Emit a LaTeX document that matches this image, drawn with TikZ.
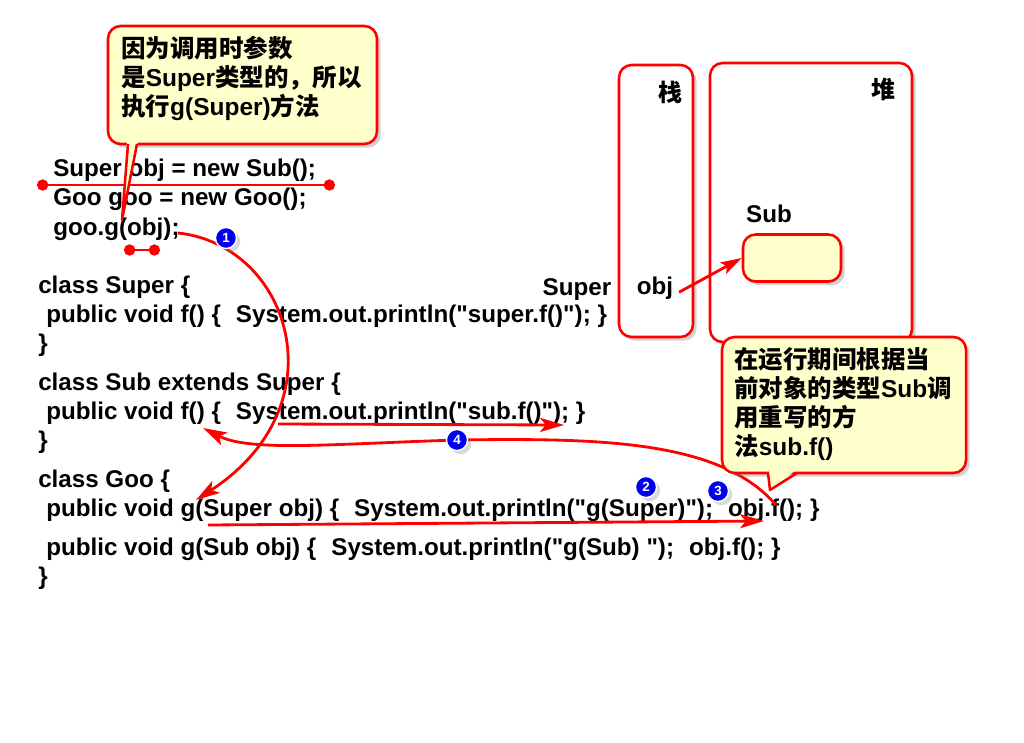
\documentclass[tikz,border=0pt]{standalone}
\usepackage{fontspec}
\setmainfont{Liberation Sans}[Ligatures=TeXOff]
\newfontfamily\cjk{Noto Sans CJK SC}
\usetikzlibrary{arrows.meta}
\usetikzlibrary{shadows}
\usetikzlibrary{positioning}

\definecolor{notefill}{RGB}{255,255,204}
\definecolor{dotblue}{RGB}{0,0,240}
\newcommand{\cn}[1]{{\cjk #1}}
\newcommand{\gap}{\hspace{0.62em}}

\tikzset{
  code/.style={anchor=west,inner sep=0pt,font=\bfseries\fontsize{17.2}{20}\selectfont},
  notetext/.style={anchor=north west,inner sep=0pt,align=left,font=\bfseries\fontsize{17.4}{20.6}\selectfont},
  redline/.style={red,line width=1.8pt},
  notebox/.style={redline,draw,fill=notefill,rounded corners=9pt,drop shadow={opacity=0.35}},
  membox/.style={redline,fill=white,rounded corners=9pt,drop shadow={opacity=0.35}},
  flow/.style={red,line width=2pt,-{Stealth[length=17pt,width=10pt,inset=4pt]}},
  pin/.style={red,line width=1.8pt,{Circle[length=8pt]}-{Circle[length=8pt]}},
  numdot/.style={circle,fill=dotblue,draw=white,line width=1pt,inner sep=0pt,minimum size=15pt,
    text=white,font=\bfseries\fontsize{9.5}{9.5}\selectfont,drop shadow={opacity=0.3}},
  memlabel/.style={font=\cjk\bfseries\fontsize{17}{17}\selectfont}
}

\begin{document}
\begin{tikzpicture}[x=0.025cm,y=-0.025cm]
    \useasboundingbox (0,0) rectangle (1024,742);

    % the code
    \node[code] (declObj) at (53,170) {Super obj = new Sub();};
    \node[code] (declGoo) at (53,199) {Goo goo = new Goo();};
    \node[code] (callG) at (53,229) {goo.g(obj);};
    \node[code] (superHead) at (38,287) {class Super \{};
    \node[code] (superF) at (46,316) {public void f() \{\gap System.out.println("super.f()"); \}};
    \node[code] (superEnd) at (38,345) {\}};
    \node[code] (subHead) at (38,384) {class Sub extends Super \{};
    \node[code] (subF) at (46,413) {public void f() \{\gap System.out.println("sub.f()"); \}};
    \node[code] (subEnd) at (38,442) {\}};
    \node[code] (gooHead) at (38,481) {class Goo \{};
    \node[code] (gooSuper) at (46,510) {public void g(Super obj) \{\gap System.out.println("g(Super)");\gap obj.f(); \}};
    \node[code] (gooSub) at (46,549) {public void g(Sub obj) \{\gap System.out.println("g(Sub) ");\gap obj.f(); \}};
    \node[code] (gooEnd) at (38,578) {\}};

    % stack and heap
    \draw[membox] (619,65) rectangle (693,337);
    \draw[membox] (710,63) rectangle (912,342);
    \node[memlabel] (stackLbl) at (670,92) {栈};
    \node[memlabel] (heapLbl) at (883,89) {堆};
    \node[notebox,minimum width=98*0.025cm,minimum height=47*0.025cm] (subObj) at (792,258) {};
    \node[code,anchor=center] (subLbl) at (769,214) {Sub};
    \node[code,anchor=center] (objLbl) at (655,288) {obj};
    \node[code,anchor=center] (typeLbl) at (577,290) {Super};
    \draw[red,line width=2pt,-{Stealth[length=15pt,width=9pt,inset=3pt]}] ([xshift=4pt,yshift=-3pt]objLbl.east) -- (subObj.west);

    % pins
    \coordinate (pinA) at (37,185);
    \coordinate (pinB) at (335,185);
    \coordinate (pinC) at (124,250);
    \coordinate (pinD) at (160,250);
    \draw[pin] (pinA) -- (pinB);
    \draw[pin] (pinC) -- (pinD);

    % call flow
    \coordinate (callEnd) at (178,233);
    \coordinate (gSuperIn) at (196,500);
    \coordinate (gLineA) at (208,525);
    \coordinate (gLineB) at (764,521);
    \coordinate (objF) at (776,505);
    \coordinate (midF) at (457,440);
    \coordinate (subFIn) at (203,428);
    \coordinate (subLineA) at (278,424);
    \coordinate (subLineB) at (564,425);

    \draw[flow] (callEnd) .. controls (290,245) and (342,405) .. (gSuperIn);
    \draw[flow] (gLineA) -- (gLineB);
    \draw[flow] (objF) .. controls (720,440) and (600,438) .. (midF)
        .. controls (330,444) and (250,452) .. (subFIn);
    \draw[flow] (subLineA) -- (subLineB);

    \node[numdot] (n1) at (226,238) {1};
    \node[numdot] (n2) at (646,487) {2};
    \node[numdot] (n3) at (718,491) {3};
    \node[numdot] (n4) at (midF) {4};

    % callout: why g(Super)
    \draw[notebox] (108,26) rectangle (377,144);
    \fill[notefill] (127,141) -- (138,141) -- (122,220) -- cycle;
    \draw[redline,line join=round] (128,144) -- (122,220) -- (137,144);
    \node[notetext] (whyNote) at (121,36)
        {\cn{因为调用时参数}\\\cn{是}Super\cn{类型的，所以}\\\cn{执行}g(Super)\cn{方法}};

    % callout: runtime dispatch
    \draw[notebox] (722,337) rectangle (966,473);
    \fill[notefill] (769,470) -- (796,470) -- (770,490) -- cycle;
    \draw[redline,line join=round] (768,473) -- (770,490) -- (797,473);
    \node[notetext] (runNote) at (734,347)
        {\cn{在运行期间根据当}\\\cn{前对象的类型}Sub\cn{调}\\\cn{用重写的方}\\\cn{法}sub.f()};
\end{tikzpicture}
\end{document}
